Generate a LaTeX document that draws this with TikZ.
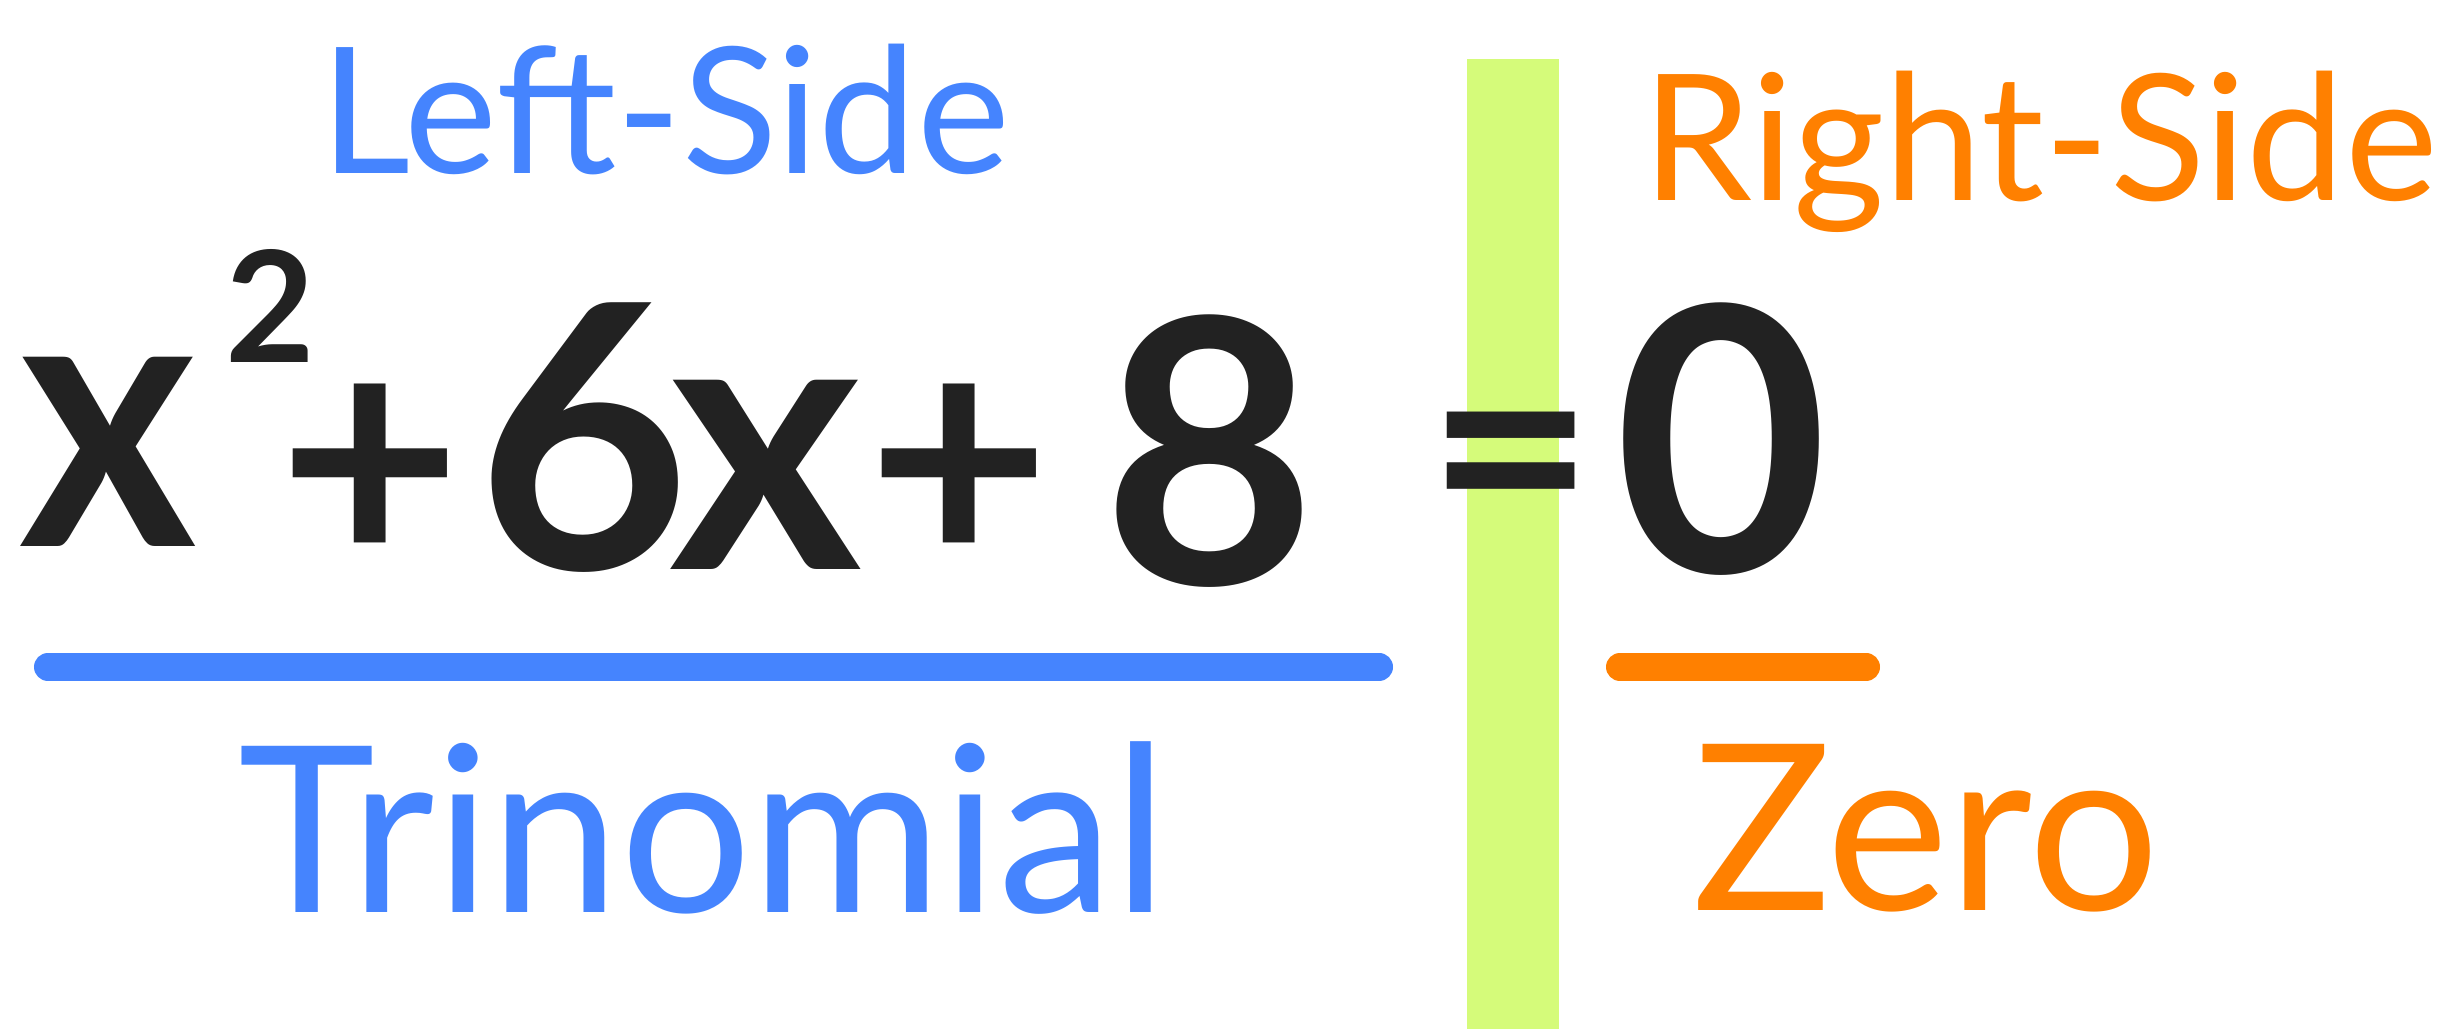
\documentclass[tikz,border=0pt]{standalone}
\usepackage{fontspec}
\setmainfont{Lato}
\usepackage{tikz}
\definecolor{EqBlue}{HTML}{4584FE}
\definecolor{EqOrange}{HTML}{FF8000}
\definecolor{EqInk}{HTML}{222222}
\definecolor{EqLime}{HTML}{D5FB7A}

\begin{document}
\begin{tikzpicture}[x=1cm,y=1cm,
  glyph/.style={inner sep=0pt,anchor=base,text=EqInk,font=\bfseries\fontsize{105}{110}\selectfont},
  side/.style={inner sep=0pt,anchor=base,font=\fontsize{50}{60}\selectfont},
  kind/.style={inner sep=0pt,anchor=base,font=\fontsize{66}{76}\selectfont},
  bar/.style={line width=0.28cm,line cap=round}]
\path[use as bounding box] (0,0) rectangle (24.44,10.29);
\fill[white] (0,0) rectangle (24.44,10.29);
\fill[EqLime] (14.67,0) rectangle (15.59,9.70);
\node[side,text=EqBlue] (lhs) at (6.65,8.55) {Left-Side};
\node[side,text=EqOrange] (rhs) at (20.40,8.28) {Right-Side};
\node[glyph,xscale=0.92] (xa) at (1.08,4.82) {x};
\node[glyph,font=\bfseries\fontsize{44}{50}\selectfont] (sq) at (2.70,6.66) {2};
\node[glyph,font=\bfseries\fontsize{90}{95}\selectfont] (pa) at (3.70,4.59) {+};
\node[glyph] (six) at (5.835,4.59) {6};
\node[glyph] (xb) at (7.66,4.59) {x};
\node[glyph,font=\bfseries\fontsize{90}{95}\selectfont] (pb) at (9.59,4.59) {+};
\node[glyph] (eight) at (12.10,4.44) {8};
\node[glyph,font=\bfseries\fontsize{82}{90}\selectfont] (eq) at (15.11,4.81) {=};
\node[glyph] (zero) at (17.22,4.56) {0};
\coordinate (tl) at (0.48,3.62);
\coordinate (tr) at (13.79,3.62);
\coordinate (zl) at (16.20,3.62);
\coordinate (zr) at (18.66,3.62);
\draw[bar,EqBlue] (tl) -- (tr);
\draw[bar,EqOrange] (zl) -- (zr);
\node[kind,text=EqBlue] (tri) at (7.035,1.16) {Trinomial};
\node[kind,text=EqOrange] (zer) at (19.26,1.18) {Zero};
\end{tikzpicture}
\end{document}
